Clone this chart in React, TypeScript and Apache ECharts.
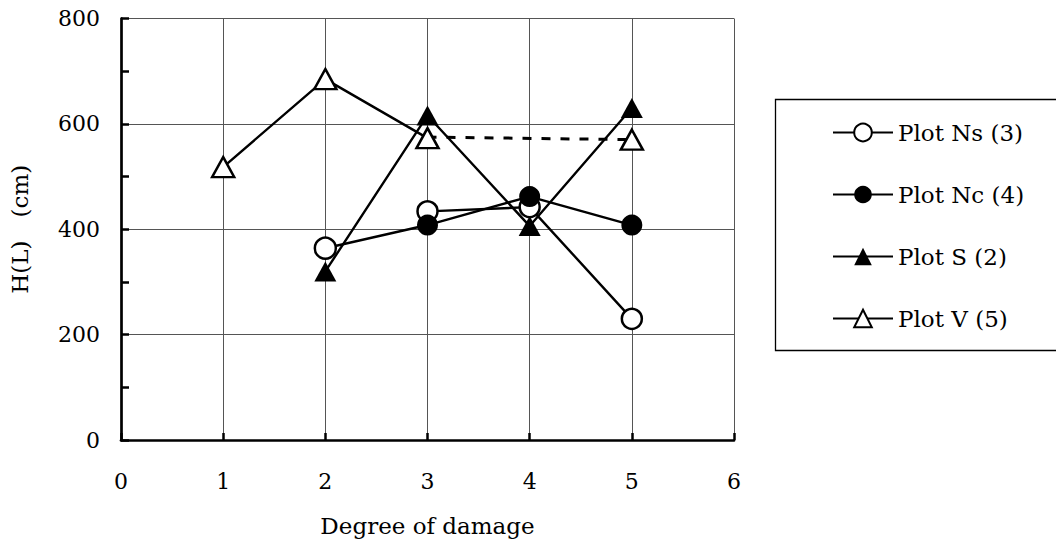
import React, { useEffect, useRef } from "react";
import * as echarts from "echarts";

const FONT = "DejaVu Serif";

// degree of damage (x) for each series point
const nsDegrees = [3, 4, 5];
const nsValues = [434, 442, 230];

const ncDegrees = [2, 3, 4, 5];
const ncValues = [364, 408, 462, 408];

const sDegrees = [2, 3, 4, 5];
const sValues = [320, 616, 406, 630];

// Plot V has no value at degree 4 ("-" = missing)
const vDegrees = [1, 2, 3, 4, 5];
const vValues: (number | string)[] = [518, 685, 573, "-", 570];

// dashed link of Plot V across the missing degree 4
const vDashDegrees = [3, 5];
const vDashValues = [575, 570];

const seriesNames = ["Plot Ns (3)", "Plot Nc (4)", "Plot S (2)", "Plot V (5)"];

const BLACK = "#000";
const LINE_W = 2.4;
const MARK_BORDER = 2.5;

function pairs(xs: number[], ys: (number | string)[]) {
  return xs.map((x, i) => [x, ys[i]]);
}

export default function App() {
  const ref = useRef<HTMLDivElement>(null);

  useEffect(() => {
    if (!ref.current) return;
    const chart = echarts.init(ref.current, null, { renderer: "svg" });

    const openStyle = { color: "#fff", borderColor: BLACK, borderWidth: MARK_BORDER };
    const filledStyle = { color: BLACK, borderColor: BLACK, borderWidth: 0 };

    const ncData = pairs(ncDegrees, ncValues).map((p, i) =>
      i === 0 ? { value: p, itemStyle: openStyle } : { value: p }
    );

    const option: any = {
      animation: false,
      backgroundColor: "#fff",
      grid: { left: 116.5, right: 330, top: 18.5, bottom: 109 },
      xAxis: {
        type: "value",
        min: 0,
        max: 6,
        interval: 1,
        name: "Degree of damage",
        nameLocation: "middle",
        nameGap: 74,
        nameTextStyle: { fontFamily: FONT, fontSize: 23, color: BLACK },
        axisLine: { onZero: false, lineStyle: { color: BLACK, width: 2.7 } },
        axisTick: { inside: true, length: 7, lineStyle: { color: BLACK, width: 2.5 } },
        axisLabel: { margin: 30, fontFamily: FONT, fontSize: 22, color: BLACK },
        splitLine: { show: true, lineStyle: { color: "#555", width: 1 } },
      },
      yAxis: {
        type: "value",
        min: 0,
        max: 800,
        interval: 200,
        name: "H(L)\u3000(cm)",
        nameLocation: "middle",
        nameGap: 90,
        nameTextStyle: { fontFamily: FONT, fontSize: 23, color: BLACK },
        axisLine: { show: true, onZero: false, lineStyle: { color: BLACK, width: 2.7 } },
        axisTick: { show: true, inside: true, length: 8, lineStyle: { color: BLACK, width: 2.5 } },
        minorTick: { show: true, splitNumber: 2, length: 8, lineStyle: { color: BLACK, width: 2.5 } },
        axisLabel: { margin: 21, fontFamily: FONT, fontSize: 22, color: BLACK },
        splitLine: { show: true, lineStyle: { color: "#555", width: 1 } },
      },
      legend: {
        left: 827,
        top: 116,
        orient: "vertical",
        itemWidth: 60,
        itemHeight: 22,
        itemGap: 39,
        data: seriesNames,
        textStyle: { fontFamily: FONT, fontSize: 23, color: BLACK },
      },
      graphic: [
        {
          type: "rect",
          shape: { x: 775.5, y: 99.5, width: 300, height: 251 },
          style: { fill: "none", stroke: BLACK, lineWidth: 1.3 },
          silent: true,
        },
      ],
      series: [
        {
          name: seriesNames[0],
          type: "line",
          data: pairs(nsDegrees, nsValues),
          symbol: "circle",
          symbolSize: 20,
          lineStyle: { color: BLACK, width: LINE_W },
          itemStyle: openStyle,
          z: 2,
        },
        {
          name: seriesNames[1],
          type: "line",
          data: ncData,
          symbol: "circle",
          symbolSize: 21,
          lineStyle: { color: BLACK, width: LINE_W },
          itemStyle: filledStyle,
          z: 3,
        },
        {
          name: seriesNames[2],
          type: "line",
          data: pairs(sDegrees, sValues),
          symbol: "triangle",
          symbolSize: [22, 20],
          lineStyle: { color: BLACK, width: LINE_W },
          itemStyle: filledStyle,
          z: 4,
        },
        {
          name: "V dashed",
          type: "line",
          data: pairs(vDashDegrees, vDashValues),
          symbol: "none",
          lineStyle: { color: BLACK, width: 3, type: [9, 10] },
          z: 4,
        },
        {
          name: seriesNames[3],
          type: "line",
          data: pairs(vDegrees, vValues),
          symbol: "triangle",
          symbolSize: [22, 20],
          connectNulls: false,
          lineStyle: { color: BLACK, width: LINE_W },
          itemStyle: openStyle,
          z: 5,
        },
      ],
    };

    chart.setOption(option);
    return () => chart.dispose();
  }, []);

  return <div ref={ref} style={{ width: 1064, height: 549, margin: -8 }} />;
}
